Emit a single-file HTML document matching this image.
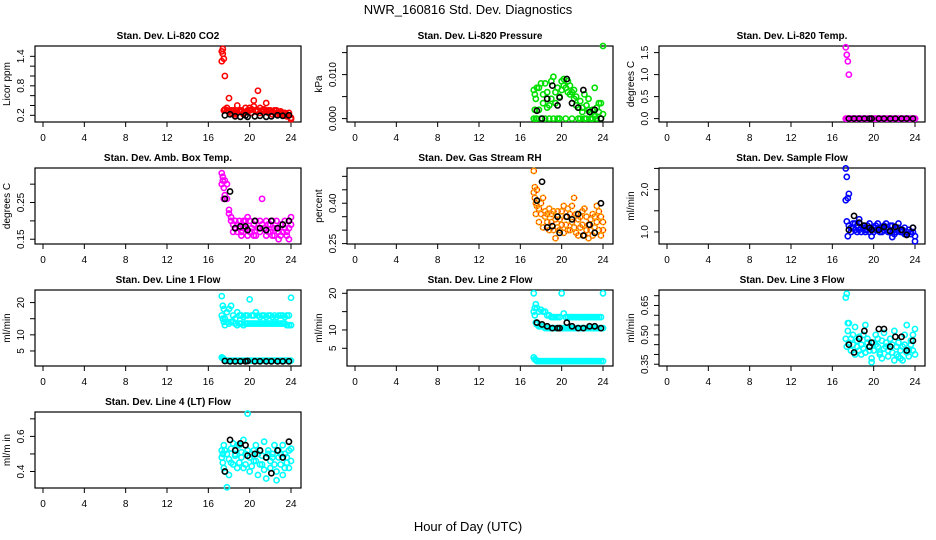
<!DOCTYPE html>
<html><head><meta charset="utf-8"><style>
body{margin:0;background:#fff;}
svg{display:block;font-family:"Liberation Sans",Arial,sans-serif;}
</style></head><body>
<svg id="chart" width="936" height="540" viewBox="0 0 936 540">
<rect width="936" height="540" fill="#fff"/>
<text x="468" y="14" text-anchor="middle" font-size="13">NWR_160816  Std. Dev. Diagnostics</text>
<text x="468" y="531" text-anchor="middle" font-size="13">Hour of Day (UTC)</text>
</svg>
<script>
var H=[17.3,17.4,17.5,17.6,17.8,18.0,18.2,18.4,18.6,18.8,19.0,19.2,19.4,19.6,19.8,20.0,20.2,20.4,20.6,20.8,21.0,21.2,21.4,21.6,21.8,22.0,22.2,22.4,22.6,22.8,23.0,23.2,23.4,23.6,23.8,24.0];
var BH=[17.6,18.1,18.6,19.1,19.6,19.8,20.5,21.0,21.6,22.1,22.7,23.2,23.8];
var xTicks=[0,4,8,12,16,20,24];

var co2A=[1.5,1.45,1.35,1.0,0.3,0.55,0.3,0.28,0.25,0.4,0.3,0.27,0.25,0.35,0.28,0.3,0.32,0.5,0.3,0.7,0.35,0.28,0.3,0.45,0.3,0.28,0.27,0.25,0.3,0.25,0.22,0.25,0.2,0.22,0.2,0.12];
var co2B=[1.3,1.55,0.3,0.32,0.35,0.28,0.25,0.3,0.22,0.25,0.28,0.3,0.22,0.27,0.3,0.35,0.25,0.38,0.28,0.3,0.25,0.3,0.32,0.28,0.25,0.3,0.22,0.3,0.22,0.27,0.28,0.2,0.25,0.18,0.25,0.15];
var co2K=[0.2,0.22,0.18,0.17,0.2,0.17,0.18,0.19,0.17,0.18,0.2,0.19,0.2];

var presA=[0.0065,0.002,0.0045,0.0,0.007,0.008,0.0055,0.0,0.006,0.003,0.0085,0.0095,0.006,0.0,0.005,0.0085,0.009,0.007,0.0085,0.0075,0.006,0.0065,0.005,0.0,0.004,0.0025,0.0055,0.003,0.0045,0.0,0.002,0.007,0.0,0.0035,0.0,0.0165];
var presB=[0.0,0.0055,0.0,0.007,0.002,0.0,0.0035,0.008,0.0025,0.0,0.0045,0.0,0.0035,0.007,0.0,0.0065,0.0075,0.0,0.006,0.0055,0.0,0.0045,0.003,0.0025,0.0,0.0015,0.0,0.0,0.002,0.0015,0.0,0.0005,0.0025,0.0015,0.0035,0.001];
var presK=[0.0018,0.0,0.0045,0.0075,0.003,0.0048,0.009,0.0035,0.0025,0.0065,0.0015,0.002,0.0];

var tempA=[1.62,1.45,1.3,1.0,0,0,0,0,0,0,0,0,0,0,0,0,0,0,0,0,0,0,0,0,0,0,0,0,0,0,0,0,0,0,0,0];
var tempB=[0,0,0,0,0,0,0,0,0,0,0,0,0,0,0,0,0,0,0,0,0,0,0,0,0,0,0,0,0,0,0,0,0,0,0,0];
var tempK=[0,0,0,0,0,0,0,0,0,0,0,0,0];

var ambA=[0.33,0.31,0.29,0.27,0.26,0.22,0.2,0.19,0.2,0.17,0.18,0.16,0.2,0.18,0.16,0.2,0.17,0.19,0.16,0.18,0.2,0.26,0.18,0.16,0.19,0.17,0.2,0.16,0.18,0.15,0.19,0.17,0.2,0.16,0.18,0.21];
var ambB=[0.3,0.32,0.26,0.31,0.3,0.23,0.21,0.17,0.18,0.19,0.2,0.17,0.18,0.2,0.21,0.17,0.18,0.16,0.2,0.18,0.17,0.19,0.18,0.2,0.17,0.19,0.16,0.18,0.2,0.17,0.16,0.19,0.18,0.17,0.15,0.19];
var ambK=[0.26,0.28,0.18,0.185,0.185,0.175,0.2,0.18,0.175,0.2,0.18,0.19,0.2];

var rhA=[0.52,0.42,0.4,0.45,0.38,0.36,0.42,0.35,0.33,0.38,0.36,0.3,0.34,0.37,0.3,0.32,0.39,0.35,0.38,0.3,0.33,0.42,0.36,0.28,0.35,0.32,0.38,0.3,0.27,0.34,0.36,0.31,0.39,0.3,0.35,0.33];
var rhB=[0.44,0.46,0.36,0.39,0.33,0.4,0.31,0.37,0.36,0.3,0.33,0.37,0.27,0.31,0.34,0.37,0.29,0.32,0.3,0.36,0.39,0.31,0.29,0.34,0.31,0.37,0.28,0.35,0.32,0.3,0.28,0.35,0.33,0.37,0.28,0.3];
var rhK=[0.41,0.48,0.31,0.315,0.35,0.29,0.35,0.34,0.36,0.28,0.32,0.29,0.4];

var sfA=[2.5,2.3,1.8,1.9,1.1,1.2,1.05,1.0,1.3,1.1,1.15,1.0,1.05,1.2,0.9,1.1,1.05,1.2,1.0,1.1,1.15,1.2,1.05,1.0,1.15,0.95,1.1,1.2,1.05,1.0,1.1,0.95,1.05,1.0,1.1,0.78];
var sfB=[1.75,1.25,0.9,1.15,1.0,1.1,1.2,1.15,1.05,1.0,1.1,1.05,1.15,1.0,1.05,1.0,1.15,1.05,1.1,1.0,1.05,1.1,1.0,1.15,0.88,1.05,1.0,1.1,1.0,1.05,0.95,1.0,1.05,0.95,1.0,0.9];
var sfK=[1.05,1.38,1.22,1.15,1.1,1.05,1.05,1.12,1.02,1.12,1.05,0.93,1.1];

var l1A=[22,19,18,15,17,18,19,16,15,17,16,16,15.5,16,16,21,16,16,17,16,15.5,16,16,15.5,16,16,15.5,16,15.5,16,16,16,15.5,16,16,21.5];
var l1B=[16,15,14,13,14,13.5,14,14,13.5,13,13.5,13.5,13,13.5,13.5,13.5,13.5,13.5,13.5,13.5,13.5,13.5,13.5,13.5,13.5,13.5,13.5,13.5,13.5,13.5,13.5,13.5,13.5,13,13,13];
var l1C=[3,2.8,2.5,2.2,2,2,2,2,2,2,2,2,2,2,2,2,2,2,2,2,2,2,2,2,2,2,2,2,2,2,2,2,2,2,2,2];
var l1K=[1.9,1.8,1.8,1.8,1.8,1.9,1.8,1.8,1.8,1.8,1.8,1.8,1.8];

var l2A=[20,16,17,16,15,15.5,15,15,14,14,13.5,13.5,13.5,13.5,13.5,20,14.5,13.5,13.5,13.5,13.5,13.5,13.5,13.5,13.5,13.5,13.5,13.5,13.5,13.5,13.5,13.5,13.5,13.5,13.5,20];
var l2B=[15,14,12,11.5,11,11,11,10.5,10.5,10.5,10.5,10.5,10.5,10.5,10.5,10.5,10.5,10.5,10.5,10.5,10.5,10.5,10.5,10.5,10.5,10.5,10.5,10.5,10.5,10.5,10.5,10.5,10.5,10.5,10.5,10.5];
var l2C=[2.5,2,1.8,1.5,1.5,1.5,1.5,1.5,1.5,1.5,1.5,1.5,1.5,1.5,1.5,1.5,1.5,1.5,1.5,1.5,1.5,1.5,1.5,1.5,1.5,1.5,1.5,1.5,1.5,1.5,1.5,1.5,1.5,1.5,1.5,1.5];
var l2K=[12,11.5,11,10.5,10.5,10.5,12,11,10.5,10.5,11,11,10.5];

var l3A=[0.69,0.71,0.56,0.56,0.48,0.45,0.54,0.47,0.42,0.45,0.5,0.55,0.48,0.42,0.38,0.46,0.5,0.44,0.4,0.47,0.51,0.44,0.42,0.48,0.45,0.52,0.4,0.46,0.38,0.44,0.5,0.55,0.42,0.47,0.5,0.53];
var l3B=[0.48,0.44,0.52,0.46,0.42,0.5,0.4,0.44,0.49,0.4,0.43,0.41,0.46,0.44,0.36,0.42,0.45,0.48,0.41,0.38,0.43,0.46,0.39,0.44,0.41,0.37,0.44,0.39,0.42,0.37,0.45,0.41,0.39,0.45,0.42,0.4];
var l3K=[0.45,0.41,0.48,0.52,0.44,0.46,0.53,0.53,0.44,0.49,0.49,0.42,0.47];

var l4A=[0.52,0.45,0.55,0.4,0.5,0.38,0.45,0.56,0.5,0.42,0.55,0.48,0.58,0.44,0.52,0.4,0.5,0.46,0.55,0.38,0.52,0.44,0.57,0.36,0.5,0.42,0.48,0.55,0.4,0.52,0.44,0.38,0.5,0.45,0.42,0.53];
var l4B=[0.48,0.5,0.42,0.52,0.31,0.47,0.53,0.44,0.49,0.55,0.45,0.51,0.42,0.5,0.73,0.48,0.43,0.52,0.46,0.5,0.44,0.49,0.41,0.48,0.52,0.46,0.5,0.44,0.35,0.48,0.5,0.55,0.42,0.48,0.52,0.46];
var l4K=[0.4,0.58,0.52,0.56,0.55,0.49,0.5,0.52,0.48,0.39,0.52,0.48,0.57];

var panels=[
 {name:'co2',title:'Stan. Dev. Li-820 CO2',ylab:'Licor ppm',col:0,row:0,y0:0.064,y1:1.61,ticks:[0.2,0.4,0.6,0.8,1.0,1.2,1.4],labs:['0.2','','','0.8','','','1.4'],c:'#ff0000',s:[co2A,co2B],k:co2K},
 {name:'pressure',title:'Stan. Dev. Li-820 Pressure',ylab:'kPa',col:1,row:0,y0:-0.00077,y1:0.0165,ticks:[0,0.005,0.01,0.015],labs:['0.000','','0.010',''],c:'#00e000',s:[presA,presB],k:presK},
 {name:'temp',title:'Stan. Dev. Li-820 Temp.',ylab:'degrees C',col:2,row:0,y0:-0.077,y1:1.65,ticks:[0,0.5,1.0,1.5],labs:['0.0','0.5','1.0','1.5'],c:'#ff00ff',s:[tempA,tempB],k:tempK},
 {name:'amb-box-temp',title:'Stan. Dev. Amb. Box Temp.',ylab:'degrees C',col:0,row:1,y0:0.137,y1:0.344,ticks:[0.15,0.2,0.25,0.3],labs:['0.15','','0.25',''],c:'#ff00ff',s:[ambA,ambB],k:ambK},
 {name:'gas-rh',title:'Stan. Dev. Gas Stream RH',ylab:'percent',col:1,row:1,y0:0.2485,y1:0.531,ticks:[0.25,0.3,0.35,0.4,0.45,0.5],labs:['0.25','','','0.40','',''],c:'#ffa500',s:[rhA,rhB],k:rhK},
 {name:'sample-flow',title:'Stan. Dev. Sample Flow',ylab:'ml/min',col:2,row:1,y0:0.716,y1:2.51,ticks:[1.0,1.5,2.0,2.5],labs:['1.0','','2.0',''],c:'#0000ff',s:[sfA,sfB],k:sfK},
 {name:'line1-flow',title:'Stan. Dev. Line 1 Flow',ylab:'ml/min',col:0,row:2,y0:0.34,y1:23.9,ticks:[5,10,15,20],labs:['5','10','','20'],c:'#00ffff',s:[l1A,l1B,l1C],k:l1K},
 {name:'line2-flow',title:'Stan. Dev. Line 2 Flow',ylab:'ml/min',col:1,row:2,y0:0.17,y1:20.9,ticks:[5,10,15,20],labs:['5','10','','20'],c:'#00ffff',s:[l2A,l2B,l2C],k:l2K},
 {name:'line3-flow',title:'Stan. Dev. Line 3 Flow',ylab:'ml/min',col:2,row:2,y0:0.341,y1:0.729,ticks:[0.35,0.4,0.45,0.5,0.55,0.6,0.65,0.7],labs:['0.35','','','0.50','','','0.65',''],c:'#00ffff',s:[l3A,l3B],k:l3K},
 {name:'line4-flow',title:'Stan. Dev. Line 4 (LT) Flow',ylab:'ml/m in',col:0,row:3,y0:0.306,y1:0.739,ticks:[0.4,0.5,0.6,0.7],labs:['0.4','','0.6',''],c:'#00ffff',s:[l4A,l4B],k:l4K}
];

var NS='http://www.w3.org/2000/svg';
var svg=document.getElementById('chart');
function mk(tag,attrs,parent){var e=document.createElementNS(NS,tag);for(var a in attrs)e.setAttribute(a,attrs[a]);(parent||svg).appendChild(e);return e;}

panels.forEach(function(p){
  var L=35+312*p.col,R=L+266,T=46+122*p.row,B=T+76;
  var g=mk('g',{});
  
  
  function xs(h){return L+8+h*(248/24);}
  function ys(v){return B-(v-p.y0)/(p.y1-p.y0)*(B-T);}
  var t=mk('text',{x:(L+R)/2,y:T-7,'text-anchor':'middle','font-size':'10','font-weight':'bold'},g);
  t.textContent=p.title;
  
  
  var box=mk('rect',{x:L,y:T,width:R-L,height:B-T,fill:'none',stroke:'#000','stroke-width':'1.2'},g);
  
  
  xTicks.forEach(function(v){
    var x=xs(v);
    mk('line',{x1:x,y1:B,x2:x,y2:B+5,stroke:'#000','stroke-width':'1'},g);
    var tl=mk('text',{x:x,y:B+19,'text-anchor':'middle','font-size':'10'},g);
    tl.textContent=v;
    
    
  });
  p.ticks.forEach(function(v,i){
    var y=ys(v);
    mk('line',{x1:L,y1:y,x2:L-5,y2:y,stroke:'#000','stroke-width':'1'},g);
    if(p.labs[i]){
      var yl=mk('text',{x:L-11,y:y,'text-anchor':'middle','font-size':'10',transform:'rotate(-90 '+(L-11)+' '+y+')'},g);
      yl.textContent=p.labs[i];
      
      
    }
  });
  var yt=mk('text',{x:L-25,y:(T+B)/2,'text-anchor':'middle','font-size':'10',transform:'rotate(-90 '+(L-25)+' '+((T+B)/2)+')'},g);
  yt.textContent=p.ylab;
  
  
  p.s.forEach(function(arr){
    arr.forEach(function(v,i){
      var c=mk('circle',{cx:xs(H[i]),cy:ys(v),r:2.6,fill:'none',stroke:p.c,'stroke-width':'1.6'},g);
      
      
      if(p.name==='gas-rh'){mk('circle',{cx:xs(H[i]),cy:ys(v),r:2.6,fill:'none',stroke:'#ff0000','stroke-width':'0.8','stroke-dasharray':'1 2'},g);}
    });
  });
  p.k.forEach(function(v,i){
    var c=mk('circle',{cx:xs(BH[i]),cy:ys(v),r:2.6,fill:'none',stroke:'#000','stroke-width':'1.6'},g);
    
    
  });
});
</script>
</body></html>
